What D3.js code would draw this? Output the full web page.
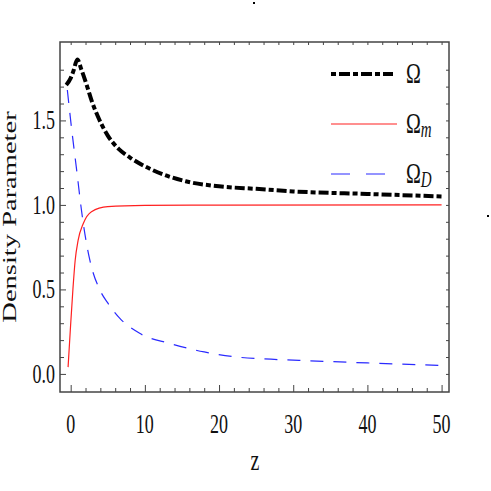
<!DOCTYPE html>
<html>
<head>
<meta charset="utf-8">
<script src="https://cdn.jsdelivr.net/npm/d3@7"></script>
<style>
	body { margin: 0; background: #fff; }
	svg text { font-family: "Liberation Serif", "DejaVu Serif", serif; fill: #111; }
</style>
</head>
<body>
<div id="chart"></div>
<script>
// Data

// Omega (total)
const zOmega = [-0.6, 0, 0.35, 0.9, 1.45, 2.3, 2.8, 3.7, 5, 6.5, 8, 11, 15.5, 20, 25, 30, 40, 50]
const omegaVals = [1.71, 1.75, 1.79, 1.86, 1.80, 1.69, 1.62, 1.52, 1.41, 1.33, 1.28, 1.207, 1.14, 1.11, 1.095, 1.08, 1.065, 1.05]

// Omega_m (matter)
const zOmegaM = [-0.35, -0.05, 0.3, 0.6, 1, 1.7, 2.8, 5, 10, 20, 50]
const omegaMVals = [0.04, 0.26, 0.50, 0.67, 0.79, 0.89, 0.96, 0.99, 0.997, 0.999, 1.0]

// Omega_D (dark energy)
const zOmegaD = [-0.45, 0.1, 0.85, 1.45, 1.7, 2.6, 3.9, 5, 6.6, 9.3, 13.4, 18, 22.4, 27, 32, 40, 50]
const omegaDVals = [1.68, 1.46, 1.19, 0.97, 0.89, 0.67, 0.50, 0.42, 0.33, 0.24, 0.18, 0.13, 0.10, 0.087, 0.078, 0.065, 0.05]

const xTicks = [0, 10, 20, 30, 40, 50]
const yTicks = [0.0, 0.5, 1.0, 1.5]

const seriesNames = ["Ω", "Ω", "Ω"]
const seriesSubs = ["", "m", "D"]

const dims = { width: 491, height: 491, left: 60, right: 449, top: 42, bottom: 392 }

function zip(xs, ys) {
	return xs.map((x, i) => ({ z: x, v: ys[i] }))
}

// stretched text, the picture was squashed sideways
function addText(g, x, y, str, size, anchor) {
	return g.append('text')
		.attr('transform', `translate(${x},${y}) scale(1,1.5)`)
		.attr('font-size', size + 'px')
		.attr('text-anchor', anchor)
		.text(str)
}

function makePlot() {
	const svg = d3.select('#chart')
		.append('svg')
		.attr('width', dims.width)
		.attr('height', dims.height)

	const xScale = d3.scaleLinear()
		.domain([-1.44, 51.0])
		.range([dims.left, dims.right])

	const yScale = d3.scaleLinear()
		.domain([-0.107, 1.964])
		.range([dims.bottom, dims.top])

	const minorX = d3.range(0, 51, 2).filter((d) => d % 10 !== 0)
	const minorY = d3.range(0, 19).map((d) => d / 10).filter((d) => Math.round(d * 10) % 5 !== 0)

	// ticks, all pointing inwards
	const axes = svg.append('g').attr('stroke', '#444')
	const tickGroup = (axis, tr) => {
		const g = axes.append('g').attr('transform', tr).call(axis)
		g.select('.domain').remove()
		g.selectAll('text').remove()
		g.selectAll('line').attr('stroke', '#444').attr('stroke-width', 1)
	}
	tickGroup(d3.axisBottom(xScale).tickValues(xTicks).tickSize(-7), `translate(0,${dims.bottom})`)
	tickGroup(d3.axisBottom(xScale).tickValues(minorX).tickSize(-4), `translate(0,${dims.bottom})`)
	tickGroup(d3.axisTop(xScale).tickValues(xTicks.concat(minorX)).tickSize(-3), `translate(0,${dims.top})`)
	tickGroup(d3.axisLeft(yScale).tickValues(yTicks).tickSize(-6), `translate(${dims.left},0)`)
	tickGroup(d3.axisLeft(yScale).tickValues(minorY).tickSize(-4), `translate(${dims.left},0)`)
	tickGroup(d3.axisRight(yScale).tickValues(yTicks.concat(minorY)).tickSize(-3), `translate(${dims.right},0)`)

	// frame
	svg.append('rect')
		.attr('x', dims.left)
		.attr('y', dims.top)
		.attr('width', dims.right - dims.left)
		.attr('height', dims.bottom - dims.top)
		.attr('fill', 'none')
		.attr('stroke', '#444')
		.attr('stroke-width', 1.5)

	// tick labels
	const labels = svg.append('g')
	xTicks.forEach((t) => {
		addText(labels, xScale(t), dims.bottom + 41, String(t), 18, 'middle')
	})
	yTicks.forEach((t) => {
		addText(labels, 55, yScale(t) + 9, t.toFixed(1), 18, 'end')
	})

	// axis titles
	addText(svg, 255, 470, 'z', 20, 'middle')
	svg.append('text')
		.attr('transform', `translate(16,${(dims.top + dims.bottom) / 2}) rotate(-90) scale(1.5,1)`)
		.attr('font-size', '19px')
		.attr('text-anchor', 'middle')
		.text('Density Parameter')

	// curves
	const line = d3.line()
		.x((d) => xScale(d.z))
		.y((d) => yScale(d.v))
		.curve(d3.curveMonotoneX)

	const plot = svg.append('g')
	plot.append('path')
		.datum(zip(zOmegaD, omegaDVals))
		.attr('d', line)
		.attr('fill', 'none')
		.attr('stroke', '#2a2aff')
		.attr('stroke-width', 1.2)
		.attr('stroke-dasharray', '13,10')

	plot.append('path')
		.datum(zip(zOmegaM, omegaMVals))
		.attr('d', line)
		.attr('fill', 'none')
		.attr('stroke', '#ff2020')
		.attr('stroke-width', 1.2)

	plot.append('path')
		.datum(zip(zOmega, omegaVals))
		.attr('d', line)
		.attr('fill', 'none')
		.attr('stroke', '#000')
		.attr('stroke-width', 4)
		.attr('stroke-dasharray', '10,3,5,3')

	// legend
	const legend = svg.append('g')
	const legendStyles = [
		{ color: '#000', width: 4, dash: '5,3,11,3', y: 74 },
		{ color: '#ff2020', width: 1.2, dash: null, y: 124 },
		{ color: '#2a2aff', width: 1.2, dash: '19,16', y: 174 }
	]
	legendStyles.forEach((s, i) => {
		legend.append('line')
			.attr('x1', 331)
			.attr('x2', i === 1 ? 397 : (i === 2 ? 385 : 393))
			.attr('y1', s.y)
			.attr('y2', s.y)
			.attr('stroke', s.color)
			.attr('stroke-width', s.width)
			.attr('stroke-dasharray', s.dash)
		const t = addText(legend, 406, s.y + 8.5, seriesNames[i], 20, 'start')
		if (seriesSubs[i] !== '') {
			t.append('tspan')
				.attr('font-size', '15px')
				.attr('font-style', 'italic')
				.attr('dy', 3)
				.text(seriesSubs[i])
		}
	})

	// stray specks in the picture
	svg.append('rect').attr('x', 253).attr('y', 2).attr('width', 2).attr('height', 2).attr('fill', '#000')
	svg.append('rect').attr('x', 487).attr('y', 215).attr('width', 2).attr('height', 2).attr('fill', '#000')
}

makePlot()
</script>
</body>
</html>
